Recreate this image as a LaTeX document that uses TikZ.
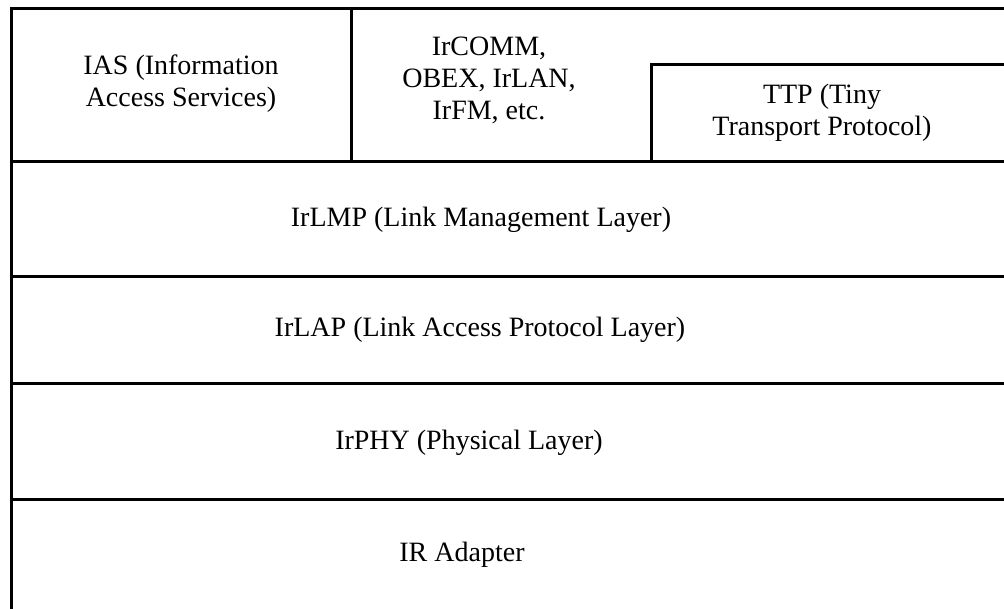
\documentclass[tikz,border=0pt]{standalone}
\usepackage{fontspec}
\setmainfont{Liberation Serif}
\begin{document}
\begin{tikzpicture}[x=1pt,y=-1pt,line width=3pt,
  lbl/.style={align=center,font=\fontsize{28}{32}\selectfont}]
\clip (0,0) rectangle (1004,609);
\fill[white] (0,0) rectangle (1004,609);
% outer frame and layer lines
\draw (1010,9) -- (11,9) -- (11,615);
\draw (351,9) -- (351,162);
\draw (1010,65) -- (651,65) -- (651,162);
\draw (11,162) -- (1010,162);
\draw (11,277) -- (1010,277);
\draw (11,384) -- (1010,384);
\draw (11,499) -- (1010,499);
% labels
\node[lbl] (ias) at (181,84) {IAS (Information\\Access Services)};
\node[lbl] (irapp) at (489,80) {IrCOMM,\\OBEX, IrLAN,\\IrFM, etc.};
\node[lbl] (ttp) at (822,113) {TTP (Tiny\\Transport Protocol)};
\node[lbl] (irlmp) at (481,220) {IrLMP (Link Management Layer)};
\node[lbl] (irlap) at (480,330) {IrLAP (Link Access Protocol Layer)};
\node[lbl] (irphy) at (469,443) {IrPHY (Physical Layer)};
\node[lbl] (irad) at (462,555) {IR Adapter};
\end{tikzpicture}
\end{document}
